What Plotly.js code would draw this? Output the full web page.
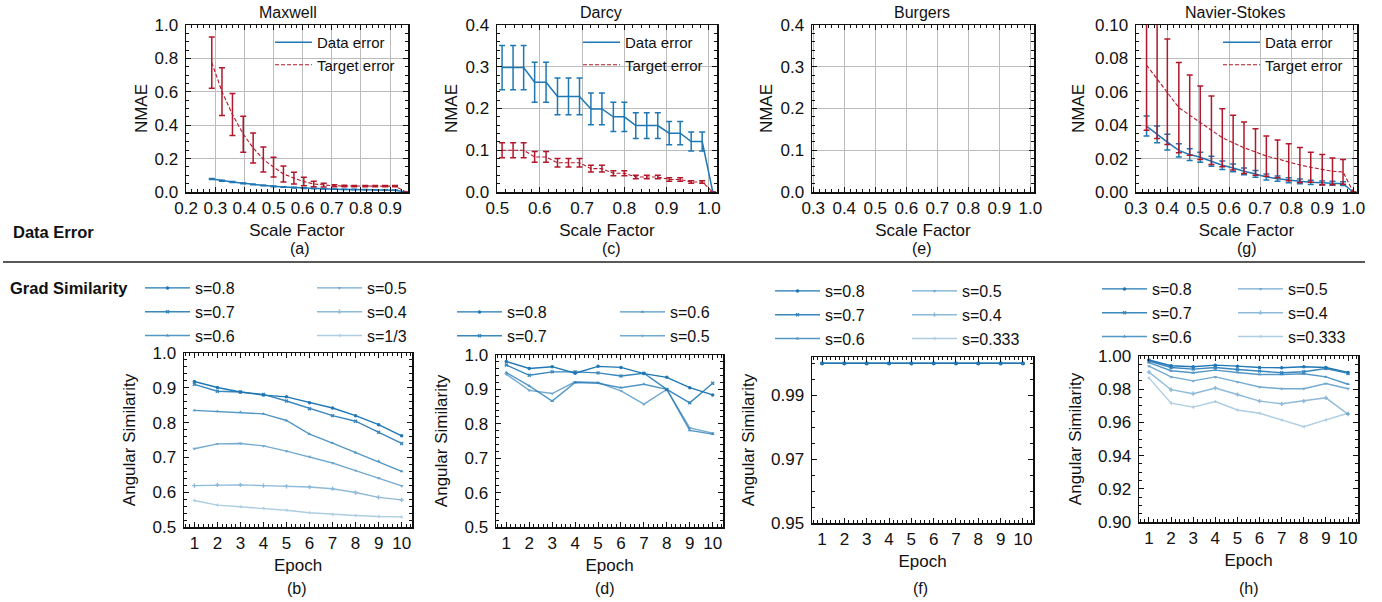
<!DOCTYPE html>
<html><head><meta charset="utf-8">
<script src="https://cdn.plot.ly/plotly-3.0.1.min.js"></script>
<style>html,body{margin:0;padding:0;background:#fff;} #chart{width:1382px;height:602px;}</style>
</head><body><div id="chart"></div>
<script>
// ---------- Top row: NMAE vs scale factor ----------
const seriesLabels = ['Data error', 'Target error'];
const datasetNames = ['Maxwell', 'Darcy', 'Burgers', 'Navier-Stokes'];
const panelLabels = ['(a)', '(c)', '(e)', '(g)', '(b)', '(d)', '(f)', '(h)'];

const maxwellScale = [0.288,0.323,0.359,0.396,0.430,0.465,0.500,0.534,0.570,0.604,0.638,0.672,0.709,0.743,0.777,0.815,0.849,0.883,0.917,0.955];
const maxwellDataErr = [0.078,0.068,0.060,0.052,0.045,0.039,0.034,0.030,0.026,0.023,0.021,0.019,0.017,0.016,0.015,0.014,0.013,0.012,0.011,0.0];
const maxwellDataStd = [0.003,0.003,0.003,0.002,0.002,0.002,0.002,0.002,0.002,0.002,0.001,0.001,0.001,0.001,0.001,0.001,0.001,0.001,0.001,0];
const maxwellTargetErr = [0.775,0.601,0.464,0.346,0.264,0.195,0.149,0.108,0.083,0.063,0.048,0.041,0.037,0.036,0.035,0.035,0.035,0.035,0.035,0.0];
const maxwellTargetStd = [0.153,0.143,0.126,0.108,0.090,0.075,0.059,0.048,0.035,0.025,0.016,0.011,0.006,0.005,0.004,0.004,0.004,0.004,0.004,0];

const darcyScale = [0.511,0.537,0.562,0.588,0.615,0.642,0.668,0.694,0.721,0.747,0.774,0.800,0.827,0.853,0.879,0.906,0.932,0.958,0.984,1.009];
const darcyDataErr = [0.298,0.298,0.298,0.263,0.263,0.229,0.229,0.229,0.199,0.199,0.180,0.180,0.159,0.159,0.159,0.141,0.141,0.121,0.121,0.0];
const darcyDataStd = [0.053,0.053,0.053,0.048,0.048,0.044,0.044,0.044,0.038,0.038,0.035,0.035,0.031,0.031,0.031,0.028,0.028,0.023,0.023,0];
const darcyTargetErr = [0.100,0.100,0.100,0.084,0.084,0.070,0.070,0.070,0.056,0.056,0.045,0.045,0.036,0.036,0.036,0.030,0.030,0.024,0.024,0.0];
const darcyTargetStd = [0.018,0.018,0.018,0.013,0.013,0.010,0.010,0.010,0.008,0.008,0.006,0.006,0.004,0.004,0.004,0.004,0.004,0.003,0.003,0];

const burgersScale = [];
const burgersDataErr = [];
const burgersTargetErr = [];

const nsScale = [0.334,0.368,0.401,0.438,0.473,0.507,0.543,0.578,0.613,0.648,0.685,0.720,0.756,0.792,0.828,0.863,0.900,0.933,0.967,1.000];
const nsDataErr = [0.0395,0.0345,0.0299,0.0249,0.0224,0.0208,0.0184,0.0160,0.0144,0.0124,0.0108,0.0090,0.0080,0.0070,0.0064,0.0058,0.0054,0.0052,0.0050,0];
const nsDataStd = [0.006,0.005,0.0047,0.004,0.0035,0.003,0.003,0.0025,0.0023,0.002,0.002,0.0018,0.0016,0.0015,0.0014,0.0013,0.0012,0.0012,0.0011,0];
const nsTargetErr = [0.0760,0.0675,0.0600,0.0505,0.0460,0.0415,0.0370,0.0325,0.0295,0.0265,0.0240,0.0215,0.0198,0.0178,0.0162,0.0148,0.0134,0.0124,0.0120,0];
const nsTargetStd = [0.039,0.0355,0.0316,0.027,0.024,0.022,0.0205,0.0174,0.0164,0.0154,0.0139,0.012,0.0113,0.0111,0.0105,0.009,0.009,0.008,0.0074,0];

// ---------- Bottom row: angular similarity vs epoch ----------
const epochs = [1,2,3,4,5,6,7,8,9,10];
const maxwellSimLabels = ['s=0.8','s=0.7','s=0.6','s=0.5','s=0.4','s=1/3'];
const darcySimLabels = ['s=0.8','s=0.7','s=0.6','s=0.5'];
const burgersSimLabels = ['s=0.8','s=0.7','s=0.6','s=0.5','s=0.4','s=0.333'];
const nsSimLabels = ['s=0.8','s=0.7','s=0.6','s=0.5','s=0.4','s=0.333'];

const maxwellSim08 = [0.918,0.901,0.888,0.879,0.874,0.857,0.842,0.820,0.794,0.762];
const maxwellSim07 = [0.910,0.890,0.888,0.881,0.862,0.840,0.820,0.804,0.772,0.740];
const maxwellSim06 = [0.835,0.832,0.830,0.825,0.806,0.767,0.741,0.714,0.689,0.660];
const maxwellSim05 = [0.725,0.739,0.740,0.733,0.718,0.702,0.684,0.662,0.641,0.618];
const maxwellSim04 = [0.619,0.621,0.621,0.619,0.617,0.615,0.610,0.599,0.585,0.578];
const maxwellSim033 = [0.576,0.563,0.558,0.554,0.548,0.541,0.536,0.533,0.530,0.529];

const darcySim08 = [0.981,0.961,0.966,0.947,0.967,0.964,0.946,0.935,0.905,0.884];
const darcySim07 = [0.971,0.941,0.951,0.951,0.948,0.939,0.947,0.900,0.861,0.918];
const darcySim06 = [0.949,0.910,0.866,0.920,0.918,0.905,0.915,0.900,0.781,0.770];
const darcySim05 = [0.944,0.897,0.888,0.922,0.920,0.896,0.857,0.900,0.788,0.773];

const burgersSim08 = [1.0,1.0,1.0,1.0,1.0,1.0,1.0,1.0,1.0,1.0];
const burgersSim07 = [1.0,1.0,1.0,1.0,1.0,1.0,1.0,1.0,1.0,1.0];
const burgersSim06 = [1.0,1.0,1.0,1.0,1.0,1.0,1.0,1.0,1.0,1.0];
const burgersSim05 = [1.0,1.0,1.0,1.0,1.0,1.0,1.0,1.0,1.0,1.0];
const burgersSim04 = [1.0,1.0,1.0,1.0,1.0,1.0,1.0,1.0,1.0,1.0];
const burgersSim033 = [1.0,1.0,1.0,1.0,1.0,1.0,1.0,1.0,1.0,1.0];

const nsSim08 = [0.9976,0.9941,0.9935,0.9945,0.9939,0.9931,0.9929,0.9935,0.9931,0.9901];
const nsSim07 = [0.9970,0.9931,0.9921,0.9931,0.9919,0.9909,0.9899,0.9905,0.9925,0.9895];
const nsSim06 = [0.9960,0.9911,0.9899,0.9915,0.9901,0.9889,0.9889,0.9893,0.9874,0.9830];
const nsSim05 = [0.9939,0.9874,0.9850,0.9874,0.9844,0.9813,0.9803,0.9803,0.9834,0.9803];
const nsSim04 = [0.9903,0.9797,0.9773,0.9807,0.9768,0.9728,0.9712,0.9728,0.9748,0.9649];
const nsSim033 = [0.9868,0.9716,0.9692,0.9726,0.9675,0.9655,0.9615,0.9574,0.9615,0.9655];

// ---------- styling ----------
const W = 1382, H = 602;
const FONT = 'Liberation Sans, Arial, sans-serif';
const BLUE = '#1f77b4';
const RED = '#b2182b';
const simAlpha = [1.0, 0.88, 0.76, 0.62, 0.5, 0.36];
const simSymbols = ['circle', 'x', 'triangle-up', 'triangle-down', 'cross', 'triangle-left'];
const px = v => v / W;
const py = v => 1 - v / H;

function axis(dom, range, o) {
  const a = {
    domain: dom, range: range, autorange: false,
    showline: true, linecolor: '#111', linewidth: 1.5, mirror: 'allticks',
    ticks: 'inside', ticklen: 5, tickwidth: 1, tickcolor: '#111',
    tickfont: {family: FONT, size: 17, color: '#111'},
    showgrid: !!o.grid, gridcolor: '#bcbcbc', gridwidth: 1,
    zeroline: false, anchor: o.anchor,
    minor: {ticks: 'inside', ticklen: 3, tickwidth: 1, tickcolor: '#111', dtick: o.minor, showgrid: false},
    ticklabelstandoff: o.standoff,
    title: {text: o.title, font: {family: FONT, size: 17, color: '#111'}, standoff: o.tstand}
  };
  if (o.tickvals) { a.tickmode = 'array'; a.tickvals = o.tickvals; a.ticktext = o.ticktext; }
  else { a.tick0 = o.tick0; a.dtick = o.dtick; a.tickformat = o.fmt; }
  return a;
}

function legendBox(left, top, size, iw) {
  return {x: px(left), y: py(top), xanchor: 'left', yanchor: 'top', bgcolor: 'rgba(0,0,0,0)',
    borderwidth: 0, font: {family: FONT, size: size, color: '#111'}, itemwidth: iw,
    tracegroupgap: 0, traceorder: 'normal'};
}

const traces = [];
function errTraces(x, d, dStd, t, tStd, xa, ya, leg) {
  traces.push({x: x, y: d, xaxis: xa, yaxis: ya, type: 'scatter', mode: 'lines', name: seriesLabels[0], legend: leg,
    line: {color: BLUE, width: 1.5},
    error_y: {type: 'data', array: dStd, visible: true, color: BLUE, thickness: 1.5, width: 3}});
  traces.push({x: x, y: t, xaxis: xa, yaxis: ya, type: 'scatter', mode: 'lines', name: seriesLabels[1], legend: leg,
    line: {color: RED, width: 1.1, dash: '4px,2px'},
    error_y: {type: 'data', array: tStd, visible: true, color: RED, thickness: 1.5, width: 3}});
}
errTraces(maxwellScale, maxwellDataErr, maxwellDataStd, maxwellTargetErr, maxwellTargetStd, 'x', 'y', 'legend');
errTraces(darcyScale, darcyDataErr, darcyDataStd, darcyTargetErr, darcyTargetStd, 'x2', 'y2', 'legend2');
errTraces(burgersScale, burgersDataErr, [], burgersTargetErr, [], 'x3', 'y3', 'legend3');
errTraces(nsScale, nsDataErr, nsDataStd, nsTargetErr, nsTargetStd, 'x4', 'y4', 'legend4');

// one trace per similarity series; idx selects colour alpha / marker
function simTrace(y, label, idx, xa, ya, leg) {
  traces.push({x: epochs, y: y, xaxis: xa, yaxis: ya, type: 'scatter', mode: 'lines+markers',
    name: label, legend: leg,
    line: {color: BLUE, width: 1.4}, opacity: simAlpha[idx],
    marker: {symbol: simSymbols[idx], size: 3.5, color: BLUE}});
}
[maxwellSim08, maxwellSim07, maxwellSim06, maxwellSim05, maxwellSim04, maxwellSim033]
  .forEach((s, i) => simTrace(s, maxwellSimLabels[i], i, 'x5', 'y5', i < 3 ? 'legend5' : 'legend6'));
[darcySim08, darcySim07, darcySim06, darcySim05]
  .forEach((s, i) => simTrace(s, darcySimLabels[i], i, 'x6', 'y6', i < 2 ? 'legend7' : 'legend8'));
[burgersSim08, burgersSim07, burgersSim06, burgersSim05, burgersSim04, burgersSim033]
  .forEach((s, i) => simTrace(s, burgersSimLabels[i], i, 'x7', 'y7', i < 3 ? 'legend9' : 'legend10'));
[nsSim08, nsSim07, nsSim06, nsSim05, nsSim04, nsSim033]
  .forEach((s, i) => simTrace(s, nsSimLabels[i], i, 'x8', 'y8', i < 3 ? 'legend11' : 'legend12'));

const topY = [py(192), py(25)];
const XS = 0, YS = 3;   // tick label standoffs
const layout = {
  width: W, height: H, margin: {l: 0, r: 0, t: 0, b: 0},
  paper_bgcolor: '#fff', plot_bgcolor: '#fff', showlegend: true,
  font: {family: FONT, color: '#111'},
  xaxis:  axis([px(186), px(408)], [0.1995, 0.9616], {anchor: 'y', grid: true, tick0: 0.2, dtick: 0.1, fmt: '.1f', minor: 0.02, title: 'Scale Factor', tstand: 7, standoff: XS}),
  yaxis:  axis(topY, [0, 1.0], {anchor: 'x', grid: true, tick0: 0, dtick: 0.2, fmt: '.1f', minor: 0.05, title: 'NMAE', tstand: 2, standoff: YS}),
  xaxis2: axis([px(497), px(717)], [0.499, 1.019], {anchor: 'y2', grid: true, tick0: 0.5, dtick: 0.1, fmt: '.1f', minor: 0.02, title: 'Scale Factor', tstand: 7, standoff: XS}),
  yaxis2: axis(topY, [0, 0.4], {anchor: 'x2', grid: true, tick0: 0, dtick: 0.1, fmt: '.1f', minor: 0.02, title: 'NMAE', tstand: 3, standoff: YS}),
  xaxis3: axis([px(812), px(1034)], [0.296, 1.012], {anchor: 'y3', grid: true, tick0: 0.3, dtick: 0.1, fmt: '.1f', minor: 0.02, title: 'Scale Factor', tstand: 7, standoff: XS}),
  yaxis3: axis(topY, [0, 0.4], {anchor: 'x3', grid: true, tick0: 0, dtick: 0.1, fmt: '.1f', minor: 0.02, title: 'NMAE', tstand: 3, standoff: YS}),
  xaxis4: axis([px(1136), px(1357)], [0.3, 1.012], {anchor: 'y4', grid: true, tick0: 0.3, dtick: 0.1, fmt: '.1f', minor: 0.02, title: 'Scale Factor', tstand: 7, standoff: XS}),
  yaxis4: axis(topY, [0, 0.1], {anchor: 'x4', grid: true, tick0: 0, dtick: 0.02, fmt: '.2f', minor: 0.005, title: 'NMAE', tstand: 6, standoff: YS}),
  xaxis5: axis([px(184), px(412)], [0.55, 10.45], {anchor: 'y5', tick0: 1, dtick: 1, fmt: 'd', minor: 0.2, title: 'Epoch', tstand: 7, standoff: XS}),
  yaxis5: axis([py(527), py(353)], [0.5, 1.0], {anchor: 'x5', tick0: 0.5, dtick: 0.1, fmt: '.1f', minor: 0.02, title: 'Angular Similarity', tstand: 12, standoff: YS}),
  xaxis6: axis([px(496), px(723)], [0.55, 10.45], {anchor: 'y6', tick0: 1, dtick: 1, fmt: 'd', minor: 0.2, title: 'Epoch', tstand: 7, standoff: XS}),
  yaxis6: axis([py(527), py(355)], [0.5, 1.0], {anchor: 'x6', tick0: 0.5, dtick: 0.1, fmt: '.1f', minor: 0.02, title: 'Angular Similarity', tstand: 12, standoff: YS}),
  xaxis7: axis([px(812), px(1033)], [0.55, 10.45], {anchor: 'y7', tick0: 1, dtick: 1, fmt: 'd', minor: 0.2, title: 'Epoch', tstand: 7, standoff: XS}),
  yaxis7: axis([py(523), py(357)], [0.95, 1.002], {anchor: 'x7', tickvals: [0.95, 0.97, 0.99], ticktext: ['0.95', '0.97', '0.99'], minor: 0.005, title: 'Angular Similarity', tstand: 12, standoff: YS}),
  xaxis8: axis([px(1139), px(1358)], [0.55, 10.45], {anchor: 'y8', tick0: 1, dtick: 1, fmt: 'd', minor: 0.2, title: 'Epoch', tstand: 7, standoff: XS}),
  yaxis8: axis([py(522), py(356)], [0.9, 1.0], {anchor: 'x8', tick0: 0.9, dtick: 0.02, fmt: '.2f', minor: 0.005, title: 'Angular Similarity', tstand: 12, standoff: YS}),
  legend:   legendBox(270, 26, 15, 37),
  legend2:  legendBox(578, 26, 15, 37),
  legend3:  legendBox(895, 26, 15, 37),
  legend4:  legendBox(1218, 26, 15, 37),
  legend5:  legendBox(140, 271, 16, 45),
  legend6:  legendBox(312, 271, 16, 45),
  legend7:  legendBox(452, 295, 16, 45),
  legend8:  legendBox(615, 295, 16, 45),
  legend9:  legendBox(770, 274, 16, 45),
  legend10: legendBox(907, 274, 16, 45),
  legend11: legendBox(1097, 272, 16, 45),
  legend12: legendBox(1233, 272, 16, 45),
  shapes: [{type: 'line', xref: 'paper', yref: 'paper', x0: px(3), x1: px(1365), y0: py(262), y1: py(262),
    line: {color: '#222', width: 1.5}}],
  annotations: []
};

const titleX = [288, 601, 922, 1235];
datasetNames.forEach((n, i) => layout.annotations.push({text: n, xref: 'paper', yref: 'paper', x: px(titleX[i]), y: py(12),
  xanchor: 'center', yanchor: 'middle', showarrow: false, font: {family: FONT, size: 16, color: '#111'}}));
const labX = [300, 611, 922, 1247, 297, 605, 920, 1249];
panelLabels.forEach((n, i) => layout.annotations.push({text: n, xref: 'paper', yref: 'paper', x: px(labX[i]), y: py(i < 4 ? 248 : 588),
  xanchor: 'center', yanchor: 'middle', showarrow: false, font: {family: FONT, size: 16, color: '#111'}}));
layout.annotations.push({text: '<b>Data Error</b>', xref: 'paper', yref: 'paper', x: px(11), y: py(232), xanchor: 'left', yanchor: 'middle',
  showarrow: false, font: {family: FONT, size: 16.5, color: '#111'}});
layout.annotations.push({text: '<b>Grad Similarity</b>', xref: 'paper', yref: 'paper', x: px(8), y: py(288), xanchor: 'left', yanchor: 'middle',
  showarrow: false, font: {family: FONT, size: 16.5, color: '#111'}});

Plotly.newPlot('chart', traces, layout, {displayModeBar: false, staticPlot: true});
</script></body></html>
